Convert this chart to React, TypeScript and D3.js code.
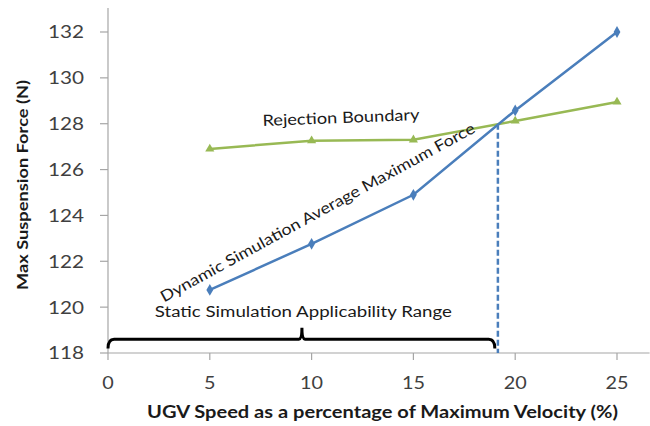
import React from "react";
import * as d3 from "d3";

const speeds = [5, 10, 15, 20, 25];
const dynamicForce = [120.75, 122.76, 124.9, 128.58, 132.0];
const rejectionBoundary = [126.9, 127.26, 127.3, 128.12, 128.95];
const xTicks = [0, 5, 10, 15, 20, 25];
const yTicks = [118, 120, 122, 124, 126, 128, 130, 132];
const crossingSpeed = 19.15;
const crossingForce = 128;
const rangeStart = 0;

const W = 650;
const H = 426;
const FONT = "Lato, 'Open Sans', sans-serif";

export default function App() {
  const x = d3.scaleLinear().domain([0, 25]).range([108, 617]);
  const y = d3.scaleLinear().domain([118, 132]).range([353, 32]);
  const yMin = 118;
  const xAxisEnd = 26.6;
  const yAxisTop = 133.05;

  const line = d3
    .line<number>()
    .x((_, i) => x(speeds[i]))
    .y((d) => y(d));

  const blue = "#4a7ebb";
  const green = "#98b954";
  const axisCol = "#a6a6a6";
  const txt = "#1a1a1a";

  // bracket (data units)
  const bLevel = 118.6;
  const bPeak = 119.1;
  const bEnd = 118.2;
  const bMid = (rangeStart + crossingSpeed - 0.1) / 2;
  const bRight = crossingSpeed - 0.15;
  const bracket = d3.path();
  bracket.moveTo(x(rangeStart), y(bEnd));
  bracket.quadraticCurveTo(x(rangeStart), y(bLevel), x(rangeStart + 0.3), y(bLevel));
  bracket.lineTo(x(bMid - 0.15), y(bLevel));
  bracket.quadraticCurveTo(x(bMid), y(bLevel), x(bMid), y(bPeak));
  bracket.quadraticCurveTo(x(bMid), y(bLevel), x(bMid + 0.15), y(bLevel));
  bracket.lineTo(x(bRight - 0.3), y(bLevel));
  bracket.quadraticCurveTo(x(bRight), y(bLevel), x(bRight), y(bEnd));

  const diamond = d3.symbol(d3.symbolDiamond, 40)();
  const triangle = d3.symbol(d3.symbolTriangle, 36)();

  return (
    <svg
      width={W}
      height={H}
      style={{ position: "absolute", left: 0, top: 0, background: "#fff" }}
      fontFamily={FONT}
    >
      {/* axes */}
      <line x1={x(0)} x2={x(0)} y1={y(yMin)} y2={y(yAxisTop)} stroke={axisCol} strokeWidth={1.2} />
      <line x1={x(0)} x2={x(xAxisEnd)} y1={y(yMin)} y2={y(yMin)} stroke={axisCol} strokeWidth={1.2} />
      {yTicks.map((t) => (
        <g key={"y" + t}>
          <line x1={x(0) - 8} x2={x(0)} y1={y(t)} y2={y(t)} stroke={axisCol} strokeWidth={1.2} />
          <text
            x={x(0) - 24}
            y={y(t)}
            dy="0.36em"
            textAnchor="end"
            fontSize={18}
            fill="#404040"
            textLength={String(t).length * 12}
            lengthAdjust="spacingAndGlyphs"
          >
            {t}
          </text>
        </g>
      ))}
      {xTicks.map((t) => (
        <g key={"x" + t}>
          <line x1={x(t)} x2={x(t)} y1={y(yMin)} y2={y(yMin) + 7} stroke={axisCol} strokeWidth={1.2} />
          <text
            x={x(t)}
            y={y(yMin) + 30}
            dy="0.36em"
            textAnchor="middle"
            fontSize={17}
            fill="#404040"
            textLength={String(t).length * 11.5}
            lengthAdjust="spacingAndGlyphs"
          >
            {t}
          </text>
        </g>
      ))}
      <text
        x={382.5}
        y={418}
        textAnchor="middle"
        fontSize={16.5}
        fontWeight="bold"
        fill={txt}
        textLength={471}
        lengthAdjust="spacingAndGlyphs"
      >
        UGV Speed as a percentage of Maximum Velocity (%)
      </text>
      <text
        transform={`translate(28, 185) rotate(-90)`}
        textAnchor="middle"
        fontSize={15.5}
        fontWeight="bold"
        fill={txt}
        textLength={210}
        lengthAdjust="spacingAndGlyphs"
      >
        Max Suspension Force (N)
      </text>

      {/* dashed crossing line */}
      <line
        x1={x(crossingSpeed)}
        x2={x(crossingSpeed)}
        y1={y(crossingForce)}
        y2={y(yMin)}
        stroke={blue}
        strokeWidth={2.5}
        strokeDasharray="6,3"
      />

      {/* series */}
      <path d={line(rejectionBoundary) || ""} fill="none" stroke={green} strokeWidth={2.5} />
      <path d={line(dynamicForce) || ""} fill="none" stroke={blue} strokeWidth={2.5} />
      {rejectionBoundary.map((v, i) => (
        <path key={"g" + i} d={triangle || ""} transform={`translate(${x(speeds[i])},${y(v)})`} fill={green} />
      ))}
      {dynamicForce.map((v, i) => (
        <path key={"b" + i} d={diamond || ""} transform={`translate(${x(speeds[i])},${y(v)})`} fill={blue} />
      ))}

      {/* bracket */}
      <path d={bracket.toString()} fill="none" stroke="#000" strokeWidth={3} />

      {/* annotations */}
      <text
        transform={`translate(${x(7.6)},${y(127.9)}) rotate(-2.2)`}
        fontSize={15.5}
        fill={txt}
        textLength={157}
        lengthAdjust="spacingAndGlyphs"
      >
        Rejection Boundary
      </text>
      <text
        transform={`translate(${x(2.75)},${y(120.2)}) rotate(-28.7)`}
        fontSize={15.5}
        fill={txt}
        textLength={356}
        lengthAdjust="spacingAndGlyphs"
      >
        Dynamic Simulation  Average Maximum Force
      </text>
      <text
        x={x(2.3)}
        y={y(119.55)}
        fontSize={15.5}
        fill={txt}
        textLength={297}
        lengthAdjust="spacingAndGlyphs"
      >
        Static Simulation Applicability Range
      </text>
    </svg>
  );
}
